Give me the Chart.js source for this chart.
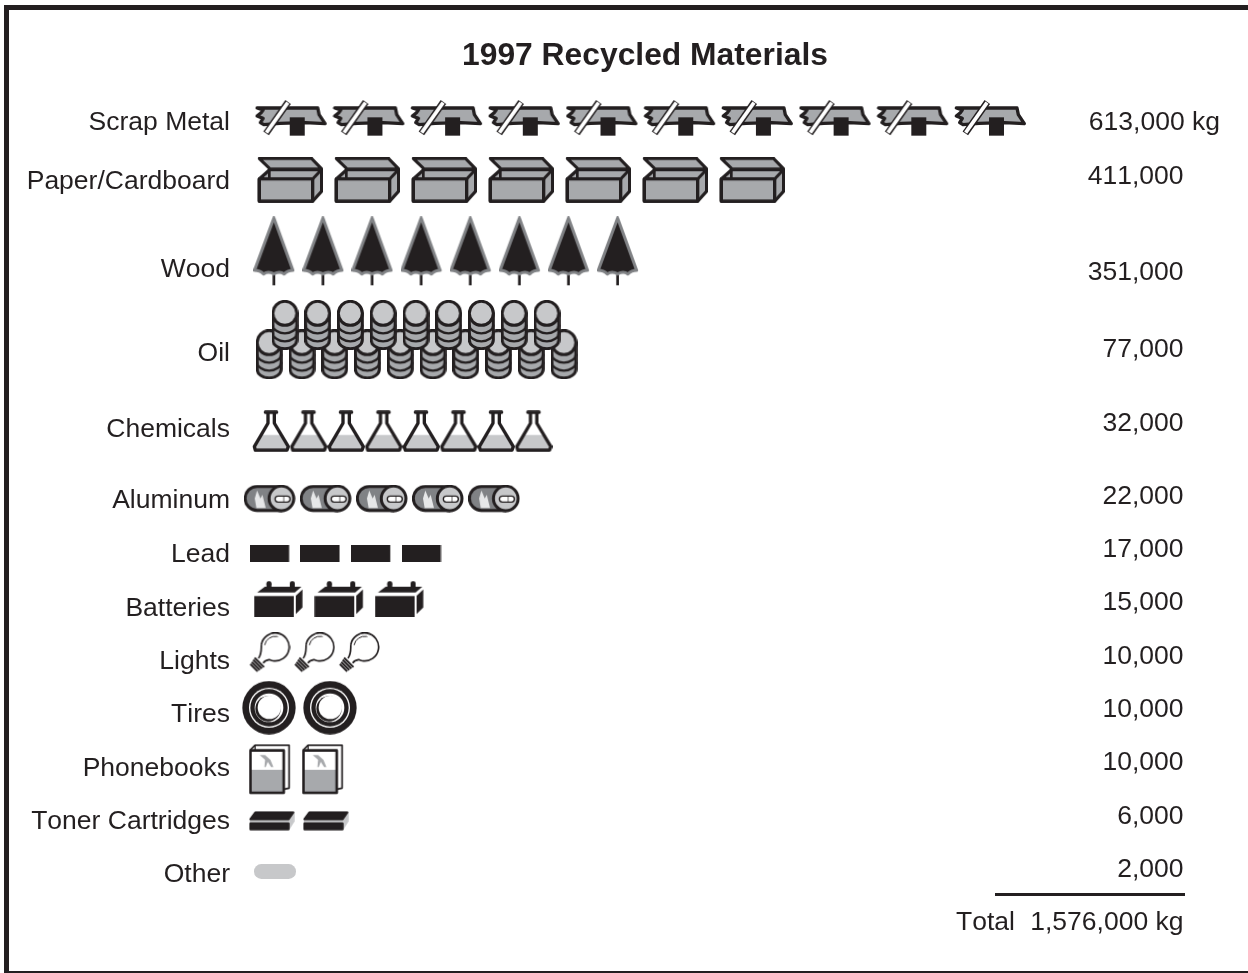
<!DOCTYPE html>
<html>
<head>
<meta charset="utf-8">
<title>1997 Recycled Materials</title>
<script src="https://cdn.jsdelivr.net/npm/chart.js@4"></script>
<style>
  html, body { margin: 0; padding: 0; background: #fff; overflow: hidden; }
  canvas { display: block; }
</style>
</head>
<body>
<canvas id="recycled" width="1248" height="973"></canvas>
<script>
var categories = ["Scrap Metal", "Paper/Cardboard", "Wood", "Oil", "Chemicals", "Aluminum", "Lead", "Batteries", "Lights", "Tires", "Phonebooks", "Toner Cartridges", "Other"];
var kilograms = [613000, 411000, 351000, 77000, 32000, 22000, 17000, 15000, 10000, 10000, 10000, 6000, 2000];
var iconCounts = [10, 7, 8, 19, 8, 5, 4, 3, 3, 2, 2, 2, 1];
var totalKilograms = 1576000;

// layout, in page pixels (the scales get set to map 1:1 onto the page)
var labelY = [123, 182, 270, 354, 430, 501, 555, 609, 662, 715, 769, 822, 875];
var valueY = [123, 177, 273, 350, 424, 497, 550, 603, 657, 710, 763, 817, 870];
var iconX = [291.2, 290, 274.2, 269.3, 271, 269.7, 269.7, 278.8, 269.5, 269, 269.7, 271.8, 275];
var iconY = [118, 180.2, 251.3, 354.3, 431.2, 498.7, 553.8, 598.7, 653.3, 707.7, 769.3, 820.8, 871.5];
var iconPitch = [77.7, 77, 49.1, 32.75, 37.5, 56.1, 50.6, 60.4, 44.7, 61, 53, 54, 0];
var oilTop = { x: 285, y: 325, count: 9 };

var INK = "#231f20", GREY = "#a7a9ac", LIGHT = "#c7c8ca", MID = "#808285";

// icons are sketched in 3x units, same as the zoomed crops they were measured on
function icon(w, h, draw) {
    var c = document.createElement("canvas");
    c.width = Math.ceil(w / 3);
    c.height = Math.ceil(h / 3);
    var g = c.getContext("2d");
    g.scale(1 / 3, 1 / 3);
    g.lineJoin = "round";
    g.strokeStyle = INK;
    g.fillStyle = INK;
    draw(g);
    return c;
}

function poly(g, pts, fill, lw) {
    g.beginPath();
    g.moveTo(pts[0], pts[1]);
    for (var i = 2; i < pts.length; i += 2) g.lineTo(pts[i], pts[i + 1]);
    g.closePath();
    if (fill) { g.fillStyle = fill; g.fill(); }
    if (lw) { g.lineWidth = lw; g.stroke(); }
}

function seg(g, x1, y1, x2, y2, lw, color) {
    g.beginPath();
    g.moveTo(x1, y1);
    g.lineTo(x2, y2);
    g.lineWidth = lw;
    g.strokeStyle = color || INK;
    g.stroke();
}

function disc(g, x, y, r, fill) {
    g.beginPath();
    g.arc(x, y, r, 0, Math.PI * 2);
    g.fillStyle = fill;
    g.fill();
}

var scrapIcon = icon(218, 114, function (g) {
    g.translate(-45, -27);
    poly(g, [52, 54, 234, 54, 238, 74, 256, 101, 196, 98, 120, 100, 72, 104, 62, 98, 70, 85, 52, 78, 64, 68, 70, 60], GREY, 10);
    g.fillStyle = INK;
    g.fillRect(150, 82, 45, 55);
    seg(g, 145, 36, 79, 130, 20);
    seg(g, 144, 38, 80, 128, 11, "#fff");
});

var boxIcon = icon(198, 136, function (g) {
    g.translate(-51, -203);
    poly(g, [58, 268, 90, 240, 245, 240, 245, 305, 218, 335, 58, 335], GREY, 10);
    seg(g, 88, 240, 88, 268, 8);
    poly(g, [58, 268, 218, 268, 218, 335, 58, 335], GREY, 10);
    seg(g, 218, 268, 245, 240, 9);
    poly(g, [58, 207, 215, 207, 245, 238, 90, 238], GREY, 9);
});

var treeIcon = icon(124, 210, function (g) {
    g.translate(-41, -19);
    g.fillRect(99, 195, 8, 31);
    g.beginPath();
    g.moveTo(103, 24);
    g.lineTo(160, 181);
    g.quadraticCurveTo(145, 181, 134, 192);
    g.quadraticCurveTo(120, 182, 103, 192);
    g.quadraticCurveTo(86, 182, 72, 192);
    g.quadraticCurveTo(61, 181, 45, 181);
    g.closePath();
    g.fillStyle = INK;
    g.fill();
    g.strokeStyle = MID;
    g.lineWidth = 9;
    g.stroke();
});

var barrelIcon = icon(80, 150, function (g) {
    g.translate(2, 2);
    g.lineWidth = 9;
    g.beginPath();
    g.moveTo(2, 38);
    g.lineTo(2, 118);
    g.ellipse(38, 118, 36, 26, 0, Math.PI, 0, true);
    g.lineTo(74, 38);
    g.closePath();
    g.fillStyle = GREY;
    g.fill();
    g.stroke();
    g.lineWidth = 7;
    [72, 96].forEach(function (y) {
        g.beginPath();
        g.ellipse(38, y, 36, 26, 0, Math.PI, 0, true);
        g.stroke();
    });
    g.lineWidth = 9;
    g.beginPath();
    g.arc(38, 38, 36, 0, Math.PI * 2);
    g.fillStyle = LIGHT;
    g.fill();
    g.stroke();
});

var flaskIcon = icon(114, 126, function (g) {
    g.translate(-36, -31);
    var outline = [84, 38, 84, 70, 43, 140, 46, 151, 141, 151, 145, 140, 103, 70, 103, 38];
    poly(g, [63, 105, 123, 105, 145, 145, 141, 151, 46, 151, 43, 140], LIGHT);
    g.strokeStyle = INK;
    g.lineCap = "round";
    g.beginPath();
    g.moveTo(outline[0], outline[1]);
    for (var i = 2; i < outline.length; i += 2) g.lineTo(outline[i], outline[i + 1]);
    g.lineWidth = 10;
    g.stroke();
    seg(g, 76, 37, 110, 37, 10);
});

var canIcon = icon(156, 84, function (g) {
    g.translate(-12, -255);
    g.beginPath();
    g.moveTo(125, 260);
    g.lineTo(52, 260);
    g.arc(52, 296, 36, -Math.PI / 2, Math.PI / 2, true);
    g.lineTo(125, 332);
    g.closePath();
    g.fillStyle = MID;
    g.fill();
    g.lineWidth = 9;
    g.stroke();
    poly(g, [52, 272, 62, 296, 68, 285, 78, 325, 50, 325, 45, 296], "#e6e7e8");
    disc(g, 125, 296, 37, LIGHT);
    g.strokeStyle = INK;
    g.beginPath();
    g.arc(125, 296, 37, 0, Math.PI * 2);
    g.lineWidth = 9;
    g.stroke();
    g.beginPath();
    g.moveTo(115, 289);
    g.lineTo(142, 289);
    g.arc(142, 298, 9, -Math.PI / 2, Math.PI / 2);
    g.lineTo(115, 307);
    g.arc(115, 298, 9, Math.PI / 2, -Math.PI / 2);
    g.fillStyle = "#fff";
    g.fill();
    g.lineWidth = 4;
    g.stroke();
    seg(g, 132, 289, 132, 307, 2);
});

var leadIcon = icon(118, 51, function (g) {
    g.fillRect(0, 0, 118, 51);
});

var batteryIcon = icon(148, 108, function (g) {
    g.translate(-42, -152);
    g.fillRect(43, 198, 119, 62);
    poly(g, [52, 187, 75, 170, 185, 170, 165, 187], INK);
    poly(g, [168, 197, 188, 178, 188, 232, 168, 252], INK);
    g.fillStyle = INK;
    g.fillRect(80, 160, 15, 12);
    g.fillRect(150, 160, 15, 12);
    disc(g, 87.5, 160, 7.5, INK);
    disc(g, 157.5, 160, 7.5, INK);
});

var bulbIcon = icon(126, 124, function (g) {
    g.translate(-26, -308);
    g.lineWidth = 5;
    var d = Math.PI / 180;
    g.beginPath();
    g.arc(106, 352, 42, 190 * d, 475 * d);
    g.bezierCurveTo(80, 391, 74, 394, 70, 400);
    g.stroke();
    g.beginPath();
    g.moveTo(64.6, 345);
    g.bezierCurveTo(64, 360, 66, 372, 56, 386);
    g.stroke();
    g.beginPath();
    g.arc(106, 352, 32, 190 * d, 285 * d);
    g.lineWidth = 3;
    g.stroke();
    g.save();
    g.translate(50, 407);
    g.rotate(Math.PI / 4);
    g.fillStyle = INK;
    for (var i = 0; i < 4; i++) g.fillRect(-20 + i * 1.5, -15 + i * 7.5, 40 - i * 3, 6);
    g.restore();
});

var tireIcon = icon(162, 162, function (g) {
    g.translate(81, 81);
    disc(g, 0, 0, 80, INK);
    disc(g, 0, 0, 60, "#fff");
    disc(g, 0, 0, 56, INK);
    disc(g, 0, 0, 43, "#fff");
    disc(g, -3, 3, 38, INK);
    disc(g, 1, -1, 35, "#fff");
});

var bookIcon = icon(124, 152, function (g) {
    g.translate(-27, -192);
    g.lineWidth = 5;
    g.beginPath();
    g.moveTo(32, 210);
    g.lineTo(46, 196);
    g.lineTo(148, 196);
    g.lineTo(148, 325);
    g.lineTo(133, 328);
    g.stroke();
    seg(g, 46, 196, 46, 210, 4);
    g.fillStyle = GREY;
    g.fillRect(32, 270, 100, 68);
    g.strokeStyle = INK;
    g.lineWidth = 8;
    g.strokeRect(32, 212, 100, 127);
    poly(g, [60, 226, 76, 226, 92, 240, 101, 262, 94, 262, 84, 246, 78, 262, 74, 262, 76, 240], GREY);
});

var tonerIcon = icon(138, 60, function (g) {
    g.translate(-27, -393);
    poly(g, [148, 421, 164, 396, 164, 425, 148, 451], LIGHT);
    poly(g, [30, 421, 148, 421, 148, 428, 30, 428], LIGHT);
    g.strokeStyle = INK;
    poly(g, [47, 398, 160, 398, 146, 418, 32, 418], INK, 7);
    poly(g, [32, 431, 146, 431, 146, 448, 32, 448], INK, 7);
});

var otherIcon = icon(126, 45, function (g) {
    g.beginPath();
    g.roundRect(0, 0, 126, 45, 22);
    g.fillStyle = LIGHT;
    g.fill();
});

var icons = [scrapIcon, boxIcon, treeIcon, barrelIcon, flaskIcon, canIcon, leadIcon, batteryIcon, bulbIcon, tireIcon, bookIcon, tonerIcon, otherIcon];

function rowPoints(row) {
    var pts = [];
    var n = iconCounts[row];
    if (categories[row] === "Oil") n = n - oilTop.count;
    for (var i = 0; i < n; i++) {
        pts.push({ x: iconX[row] + i * iconPitch[row], y: iconY[row] });
    }
    return pts;
}

function oilTopPoints() {
    var pts = [];
    for (var i = 0; i < oilTop.count; i++) {
        pts.push({ x: oilTop.x + i * iconPitch[3], y: oilTop.y });
    }
    return pts;
}

// first dataset ends up on top, the upper oil stacks cover the lower ones
var datasets = [{ label: "Oil (upper)", data: oilTopPoints(), pointStyle: barrelIcon }];
categories.forEach(function (name, row) {
    datasets.push({ label: name, data: rowPoints(row), pointStyle: icons[row] });
});

var FONT = "Liberation Sans";
var TEXT_SIZE = 26.5;

var pagePlugin = {
    id: "page",
    beforeDraw: function (chart) {
        var ctx = chart.ctx;
        ctx.fontKerning = "none"; // reference text has no kerning ("11", "To")
        ctx.save();
        ctx.fillStyle = "#fff";
        ctx.fillRect(0, 0, chart.width, chart.height);
        ctx.fillStyle = INK;
        ctx.fillRect(4, 5, chart.width - 4, 5);
        ctx.fillRect(4, 5, 5, chart.height - 5);
        ctx.fillRect(4, 971, chart.width - 4, 2);
        ctx.restore();
    },
    afterDraw: function (chart) {
        var ctx = chart.ctx;
        var y = chart.scales.y;
        var x = chart.scales.x;
        ctx.save();
        ctx.fillStyle = INK;
        ctx.font = TEXT_SIZE + "px '" + FONT + "'";
        ctx.textBaseline = "middle";
        ctx.textAlign = "right";
        kilograms.forEach(function (v, i) {
            var txt = v.toLocaleString("en-US");
            if (i === 0) txt += " kg";
            ctx.fillText(txt, x.getPixelForValue(i === 0 ? 1220 : 1183.5), y.getPixelForValue(valueY[i]));
        });
        ctx.fillText(totalKilograms.toLocaleString("en-US") + " kg", x.getPixelForValue(1183.5), y.getPixelForValue(923));
        ctx.textAlign = "left";
        ctx.fillText("Total", x.getPixelForValue(956), y.getPixelForValue(923));
        ctx.strokeStyle = INK;
        ctx.lineWidth = 3;
        ctx.beginPath();
        ctx.moveTo(x.getPixelForValue(995), y.getPixelForValue(894.5));
        ctx.lineTo(x.getPixelForValue(1185), y.getPixelForValue(894.5));
        ctx.stroke();
        ctx.restore();
    }
};

var chart = new Chart(document.getElementById("recycled").getContext("2d"), {
    type: "scatter",
    data: { datasets: datasets },
    plugins: [pagePlugin],
    options: {
        responsive: false,
        animation: { duration: 0 },
        events: [],
        // negative right padding pushes the title's centre over to 645
        layout: { padding: { left: 0, right: -42, top: 0, bottom: 23 } },
        plugins: {
            legend: { display: false },
            tooltip: { enabled: false },
            title: {
                display: true,
                text: "1997 Recycled Materials",
                color: INK,
                font: { family: FONT, size: 31.8, weight: "bold", lineHeight: 1.2 },
                padding: { top: 37, bottom: 5 }
            }
        },
        scales: {
            x: { type: "linear", display: false, min: 232, max: 1290 },
            y: {
                type: "linear",
                reverse: true,
                min: 80,
                max: 950,
                grid: { display: false, drawTicks: false },
                border: { display: false },
                afterFit: function (scale) { scale.width = 232; },
                afterBuildTicks: function (scale) {
                    scale.ticks = labelY.map(function (v) { return { value: v }; });
                },
                ticks: {
                    autoSkip: false,
                    padding: 2,
                    color: INK,
                    font: { family: FONT, size: TEXT_SIZE },
                    callback: function (value) { return categories[labelY.indexOf(value)]; }
                }
            }
        }
    }
});

// make one scale unit equal one page pixel on both axes
var area = chart.chartArea;
chart.options.scales.x.min = area.left;
chart.options.scales.x.max = area.right;
chart.options.scales.y.min = area.top;
chart.options.scales.y.max = area.bottom;
chart.update();
</script>
</body>
</html>
